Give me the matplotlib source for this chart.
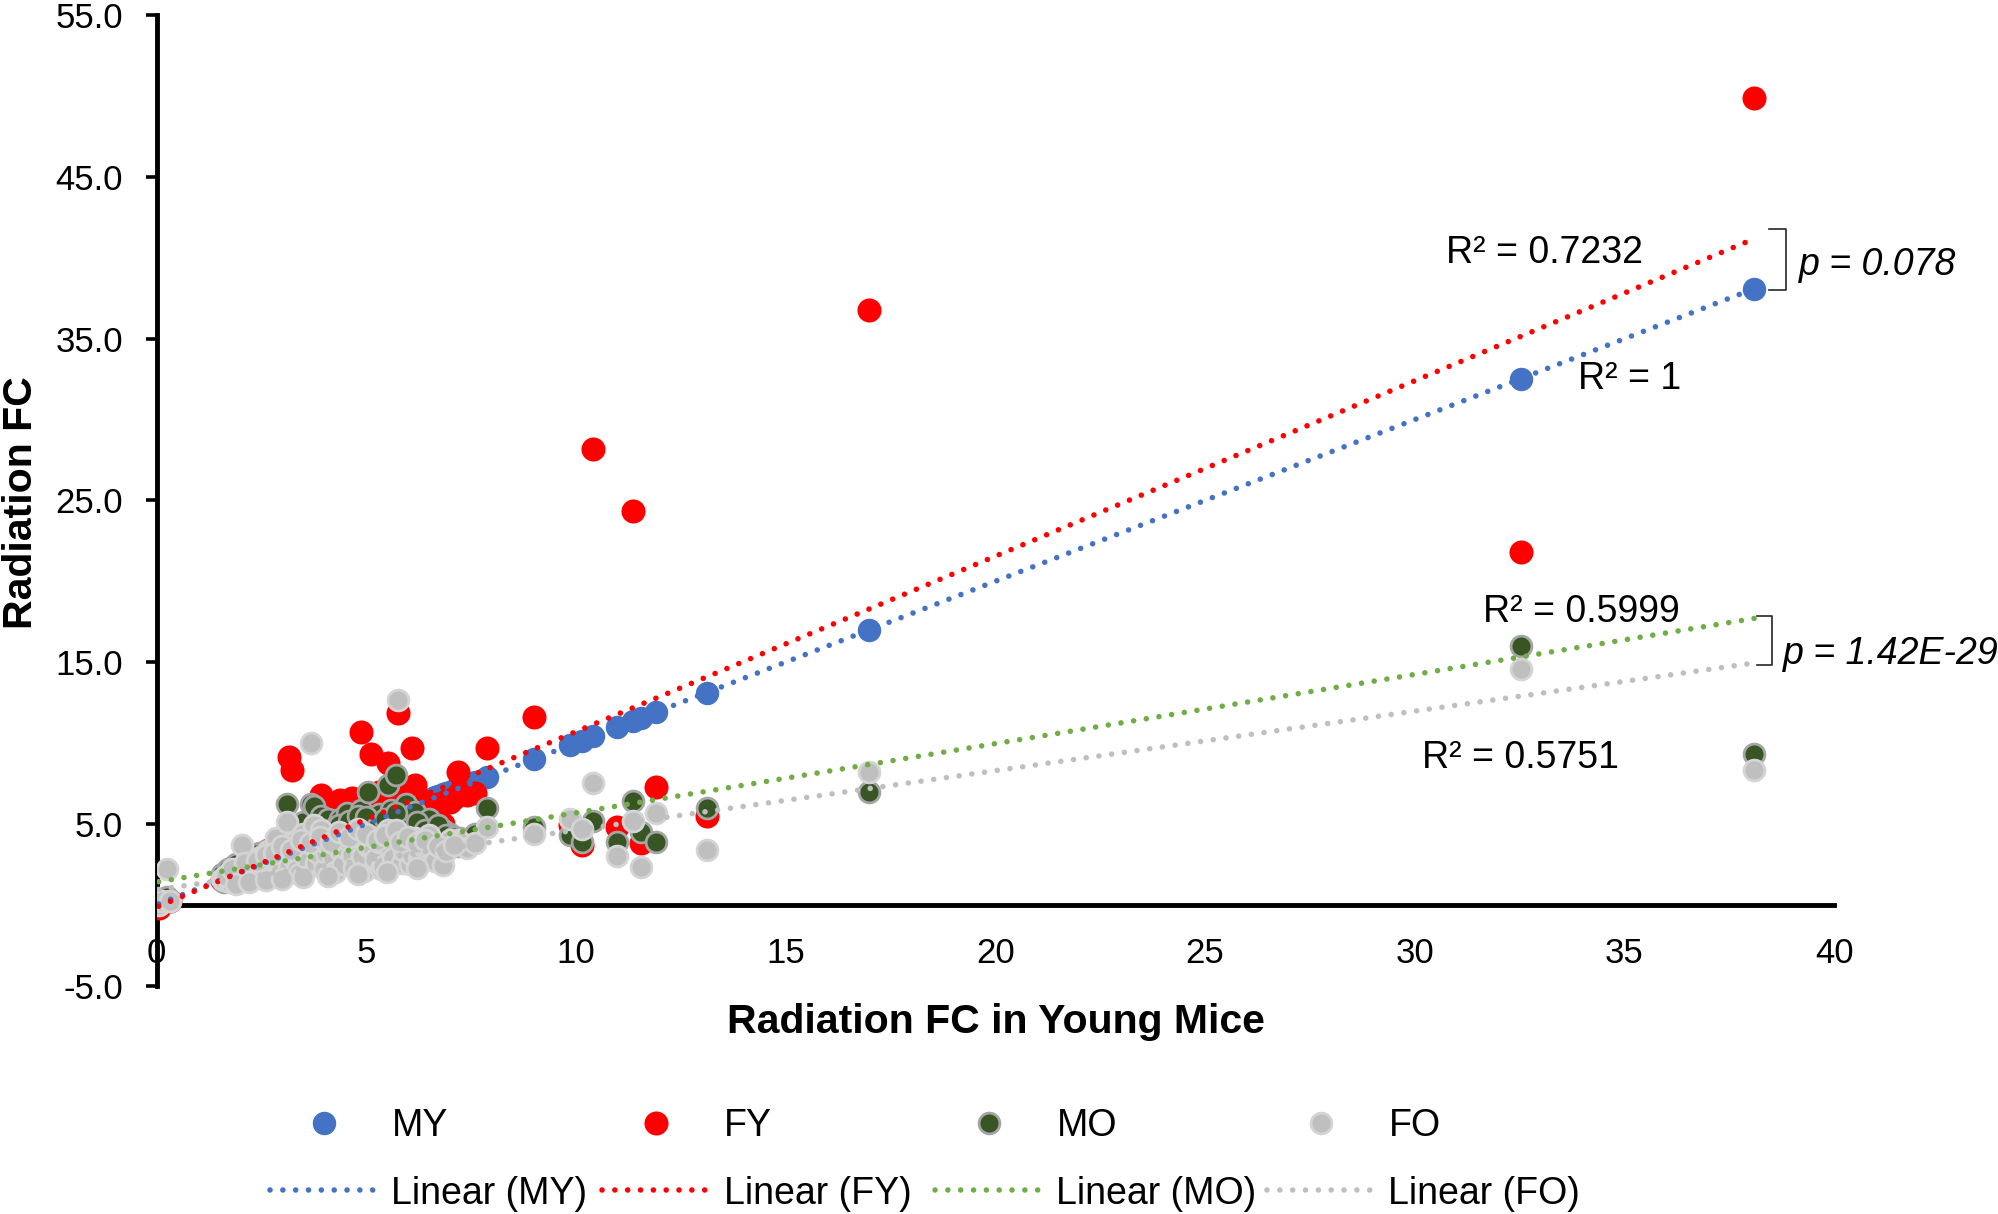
import matplotlib
matplotlib.use('Agg')
import matplotlib.pyplot as plt
import numpy as np

plt.rcParams['font.family'] = ['Liberation Sans', 'DejaVu Sans']

# Radiation FC in young mice (x) and the four groups (y)
young_fc = [0.05, 0.12, 0.25, 0.32, 1.55, 1.6, 1.7, 1.75, 1.85, 1.95, 2.0, 2.05, 2.15, 2.25, 2.3,
            2.35, 2.45, 2.5, 2.55, 2.65, 2.7, 2.75, 2.85, 2.9, 2.95, 3.05, 3.1, 3.15, 3.22, 3.3,
            3.35, 3.4, 3.5, 3.55, 3.6, 3.68, 3.75, 3.8, 3.85, 3.93, 4.0, 4.05, 4.1, 4.2, 4.25,
            4.3, 4.37, 4.45, 4.5, 4.55, 4.65, 4.7, 4.75, 4.87, 4.9, 4.95, 5.05, 5.11, 5.15, 5.2,
            5.3, 5.35, 5.4, 5.52, 5.6, 5.65, 5.72, 5.76, 5.85, 5.9, 5.95, 6.05, 6.1, 6.16, 6.25,
            6.3, 6.36, 6.5, 6.6, 6.65, 6.84, 6.99, 7.2, 7.23, 7.4, 7.6, 7.87, 9.0, 9.86, 10.14,
            10.41, 10.98, 11.37, 11.55, 11.9, 13.12, 17.0, 32.53, 38.1,
            1.65, 1.8, 2.1, 2.4, 2.6, 2.8, 3.0, 3.2, 3.45, 3.65, 3.9, 4.15, 4.35, 4.6, 4.8,
            5.0, 5.25, 5.45, 5.7, 5.8, 6.0, 6.2, 6.4, 6.7, 6.9, 7.1, 1.9, 2.2, 2.6, 3.0,
            3.5, 4.1, 4.8, 5.5, 6.2]
my_fc = list(young_fc)
fy_fc = [-0.2, 0.1, 0.3, 0.2, 1.5, 1.9, 2.0, 1.6, 1.8, 2.3, 2.4, 2.6, 2.1, 2.9, 2.2,
         2.5, 3.0, 3.1, 2.7, 3.4, 2.8, 2.9, 3.6, 3.3, 3.2, 3.9, 3.5, 9.15, 8.3, 4.2,
         3.6, 3.8, 4.6, 4.1, 4.0, 5.0, 4.4, 4.2, 5.3, 6.8, 4.7, 4.5, 5.6, 4.3, 5.0,
         6.0, 6.5, 5.2, 4.9, 6.2, 6.6, 5.3, 5.5, 10.7, 5.7, 5.9, 6.4, 9.35, 5.6, 6.0,
         7.0, 6.1, 5.6, 8.75, 6.8, 6.4, 7.5, 11.85, 6.3, 6.7, 7.1, 6.5, 9.7, 7.4, 6.6,
         6.0, 5.75, 6.2, 5.9, 6.1, 5.0, 6.35, 8.2, 7.0, 6.8, 6.9, 9.7, 11.6, 4.9, 3.7,
         28.2, 4.8, 24.35, 3.8, 7.3, 5.5, 36.8, 21.8, 49.9,
         1.7, 2.0, 2.3, 2.5, 2.8, 3.0, 3.2, 3.4, 3.6, 3.8, 4.0, 4.3, 4.4, 4.6, 4.7,
         4.9, 5.0, 5.2, 5.4, 5.5, 5.6, 5.8, 5.9, 6.2, 6.4, 6.6, 1.9, 2.2, 2.6, 3.0,
         3.4, 4.0, 4.5, 5.0, 5.6]
mo_fc = [0.1, 0.3, 0.5, 0.2, 1.9, 1.4, 2.2, 2.0, 2.4, 1.9, 2.1, 2.7, 2.3, 2.8, 2.6,
         2.0, 3.2, 2.4, 2.6, 3.0, 2.9, 3.5, 2.9, 3.1, 3.8, 4.3, 6.2, 3.3, 3.9, 4.6,
         3.7, 3.4, 5.1, 3.6, 4.2, 6.2, 6.1, 4.4, 4.8, 5.5, 4.0, 4.6, 5.3, 3.6, 4.2,
         4.9, 5.3, 4.1, 4.8, 5.7, 4.5, 4.3, 5.0, 5.85, 5.1, 4.4, 7.0, 5.2, 4.6, 4.7,
         5.6, 5.0, 4.2, 7.4, 5.85, 4.9, 8.0, 5.4, 4.9, 5.2, 6.2, 4.3, 5.0, 5.75, 4.6,
         4.9, 4.8, 5.3, 4.2, 4.4, 4.6, 4.4, 3.6, 4.1, 3.8, 4.4, 6.0, 4.8, 4.3, 3.9,
         5.2, 3.9, 6.4, 4.5, 3.9, 6.0, 6.95, 16.0, 9.3,
         1.8, 1.7, 2.4, 2.9, 3.3, 3.4, 3.6, 3.2, 4.3, 4.1, 4.7, 4.5, 4.9, 5.2, 5.5,
         5.4, 4.8, 5.3, 5.7, 4.5, 4.7, 5.1, 4.6, 4.9, 4.3, 4.2, 2.5, 2.2, 2.7, 2.8,
         3.3, 3.9, 4.1, 4.4, 4.0]
fo_fc = [0.0, 0.2, 2.2, 0.2, 1.6, 1.5, 1.9, 1.4, 2.1, 1.7, 1.6, 3.7, 2.0, 2.5, 2.3,
         1.8, 2.9, 1.7, 2.2, 3.3, 3.0, 2.6, 4.1, 2.4, 2.0, 3.5, 5.1, 2.4, 3.0, 3.9,
         2.2, 1.9, 4.4, 3.0, 2.7, 10.0, 4.9, 2.6, 3.2, 4.6, 2.2, 3.2, 3.7, 2.9, 2.0,
         4.3, 3.4, 2.5, 3.5, 4.0, 3.1, 2.3, 3.8, 4.5, 3.0, 2.1, 3.6, 4.2, 3.4, 2.8,
         3.9, 2.2, 2.4, 4.6, 3.3, 2.9, 4.4, 12.65, 2.6, 3.3, 3.7, 2.5, 3.1, 4.1, 2.9,
         3.0, 3.6, 4.3, 3.4, 2.7, 2.45, 4.0, 4.0, 3.9, 3.5, 3.8, 4.8, 4.4, 5.3, 4.7,
         7.5, 3.0, 5.2, 2.35, 5.65, 3.4, 8.2, 14.55, 8.35,
         1.75, 2.2, 2.6, 2.7, 3.1, 3.2, 3.6, 3.4, 4.0, 3.8, 4.2, 3.9, 4.5, 4.2, 4.7,
         4.4, 4.0, 4.3, 4.6, 3.9, 4.2, 3.8, 4.0, 3.6, 3.3, 3.7, 1.3, 1.4, 1.5, 1.6,
         1.7, 1.8, 1.9, 2.0, 2.3]

series_names = ['MY', 'FY', 'MO', 'FO']
trend_slope = [1.0, 1.085, 0.428, 0.368]
trend_intercept = [0.0, -0.15, 1.40, 0.93]
r2_labels = ['R² = 1', 'R² = 0.7232', 'R² = 0.5999', 'R² = 0.5751']
r2_pos = [(33.89, 31.87), (30.75, 39.70), (31.64, 17.50), (30.17, 8.43)]
p_labels = ['p = 0.078', 'p = 1.42E-29']
p_pos = [(39.17, 38.94), (38.77, 14.88)]
x_ticks = [0, 5, 10, 15, 20, 25, 30, 35, 40]
y_ticks = [-5, 5, 15, 25, 35, 45, 55]

face_colors = ['#4472C4', '#FF0000', '#375623', '#BFBFBF']
edge_colors = ['#4472C4', '#FF0000', '#A5A5A5', '#D4D4D4']
edge_widths = [0, 0, 2.0, 2.0]
marker_sizes = [285, 300, 225, 225]
line_colors = ['#4472C4', '#FF0000', '#70AD47', '#BFBFBF']

fig = plt.figure(figsize=(19.99, 12.14), dpi=100)
ax = fig.add_axes([0.0783, 0.18818, 0.8392, 0.79918])

x = np.array(young_fc)
ys = [np.array(my_fc), np.array(fy_fc), np.array(mo_fc), np.array(fo_fc)]

dots = []
lines = []
for i, name in enumerate(series_names):
    sc = ax.scatter(x, ys[i], s=marker_sizes[i], c=face_colors[i], edgecolors=edge_colors[i],
                    linewidths=edge_widths[i], zorder=2 + i, label=name)
    dots.append(sc)
for i, name in enumerate(series_names):
    xx = np.array([x.min(), x.max()])
    yy = trend_slope[i] * xx + trend_intercept[i]
    ln, = ax.plot(xx, yy, color=line_colors[i], lw=4.0, linestyle=(0, (0.01, 2.3)),
                  dash_capstyle='round', zorder=10 + i, label='Linear (' + name + ')')
    lines.append(ln)

ax.set_xlim(0, 40)
ax.set_ylim(-5, 55)
ax.spines['top'].set_visible(False)
ax.spines['right'].set_visible(False)
ax.spines['bottom'].set_position(('data', 0))
for sp in ['left', 'bottom']:
    ax.spines[sp].set_linewidth(3.5)
    ax.spines[sp].set_color('black')
    ax.spines[sp].set_zorder(1)

ax.set_xticks(x_ticks)
ax.set_xticklabels([str(t) for t in x_ticks])
ax.set_yticks(y_ticks)
ax.set_yticklabels(['%.1f' % t for t in y_ticks])
ax.tick_params(axis='x', length=0, pad=23, labelsize=25)
ax.tick_params(axis='y', direction='out', length=8, width=2.6, pad=16, labelsize=25)

# R squared and p-value annotations
for lab, (tx, ty) in zip(r2_labels, r2_pos):
    ax.text(tx, ty, lab, fontsize=27, ha='left', va='baseline')
for lab, (tx, ty) in zip(p_labels, p_pos):
    ax.text(tx, ty, lab, fontsize=27, ha='left', va='baseline', style='italic')

ax.plot([38.45, 38.86, 38.86, 38.45], [41.77, 41.77, 38.01, 38.01], color='#262626', lw=1.2, clip_on=False)
ax.plot([38.17, 38.51, 38.51, 38.17], [17.87, 17.87, 14.82, 14.82], color='#262626', lw=1.2, clip_on=False)

fig.text(21 / 1999, 1 - 503 / 1214, 'Radiation FC', rotation=90, ha='center', va='center',
         fontsize=29.5, fontweight='bold')
fig.text(996 / 1999, 1 - 1033 / 1214, 'Radiation FC in Young Mice', ha='center', va='baseline',
         fontsize=29.5, fontweight='bold')

col_x = [270, 602, 935, 1267]
for i, name in enumerate(series_names):
    fig.legend([dots[i], lines[i]], [name, 'Linear (' + name + ')'], loc='center left',
               bbox_to_anchor=(col_x[i] / 1999, 1 - 1160 / 1214), frameon=False, borderpad=0,
               borderaxespad=0, handlelength=2.9, handletextpad=0.34, labelspacing=0.83,
               fontsize=27, scatterpoints=1, scatteryoffsets=[0.5])

fig.savefig('out.png', dpi=100)
